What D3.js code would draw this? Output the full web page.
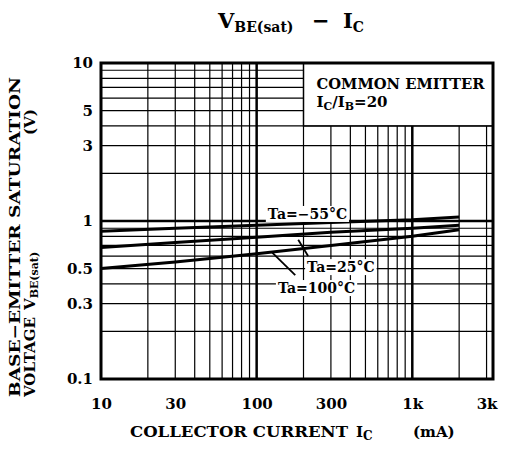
<!DOCTYPE html>
<html>
<head>
<meta charset="utf-8">
<script src="https://cdn.jsdelivr.net/npm/d3@7"></script>
<style>
  body { margin: 0; background: #fff; }
  svg text { font-family: "DejaVu Serif", serif; font-weight: bold; fill: #000; }
</style>
</head>
<body>
<svg id="chart" width="510" height="459"></svg>
<script>
// axis domains and ticks
const xDomain = [10, 3300];
const yDomain = [0.1, 10];
const xTicks = [10, 30, 100, 300, 1000, 3000];
const xTickLabels = ["10", "30", "100", "300", "1k", "3k"];
const yTicks = [0.1, 0.3, 0.5, 1, 3, 5, 10];
const yTickLabels = ["0.1", "0.3", "0.5", "1", "3", "5", "10"];

// curves (Ic mA, Vbe(sat) V)
const ic = [10, 30, 100, 300, 1000, 2000];
const vbeM55 = [0.86, 0.9, 0.94, 0.98, 1.02, 1.06];
const vbe25 = [0.68, 0.73, 0.79, 0.85, 0.9, 0.94];
const vbe100 = [0.5, 0.55, 0.62, 0.7, 0.8, 0.88];
const seriesNames = ["Ta=−55°C", "Ta=25°C", "Ta=100°C"];

// label anchors (data units) and leader lines
const labelIc = [118, 211, 137];
const labelV = [1.03, 0.475, 0.35];
const leaderFrom = [null, [185, 0.76], [126, 0.63]];
const leaderTo = [null, [214, 0.6], [177, 0.455]];

const svg = d3.select("#chart");
const pL = 101, pR = 493, pT = 63, pB = 379;

const x = d3.scaleLog().domain(xDomain).range([pL, pR]);
const y = d3.scaleLog().domain(yDomain).range([pB, pT]);

// legend box area (grid hidden there)
const boxX0 = x(200), boxY1 = y(4);

// minor grid values
const xGrid = [];
[10, 100, 1000].forEach(d => { for (let k = 1; k <= 9; k++) { const v = d * k; if (v > 10 && v < xDomain[1]) xGrid.push(v); } });
const yGrid = [];
[0.1, 1].forEach(d => { for (let k = 1; k <= 9; k++) { const v = +(d * k).toFixed(2); if (v > 0.1 && v < 10) yGrid.push(v); } });

const grid = svg.append("g").attr("stroke", "#000");
grid.selectAll("line.vx")
  .data(xGrid)
  .enter().append("line")
  .attr("x1", d => x(d)).attr("x2", d => x(d))
  .attr("y1", d => x(d) >= boxX0 - 0.5 ? boxY1 : pT)
  .attr("y2", pB)
  .attr("stroke-width", d => (d === 100 || d === 1000) ? 2.5 : 1.2);

grid.selectAll("line.hy")
  .data(yGrid)
  .enter().append("line")
  .attr("y1", d => y(d)).attr("y2", d => y(d))
  .attr("x1", pL)
  .attr("x2", d => y(d) < boxY1 - 0.5 ? boxX0 : pR)
  .attr("stroke-width", d => d === 1 ? 2.5 : 1.2);

// legend box
svg.append("rect")
  .attr("x", boxX0).attr("y", pT)
  .attr("width", pR - boxX0).attr("height", boxY1 - pT)
  .attr("fill", "#fff").attr("stroke", "#000").attr("stroke-width", 1.5);

const leg = svg.append("text").attr("x", boxX0 + 13).attr("y", pT + 26).attr("font-size", 15);
leg.text("COMMON EMITTER").attr("textLength", 168).attr("lengthAdjust", "spacingAndGlyphs");
const leg2 = svg.append("text").attr("x", boxX0 + 13).attr("y", pT + 44).attr("font-size", 15);
leg2.append("tspan").text("I");
leg2.append("tspan").attr("font-size", 11).attr("dy", 3).text("C");
leg2.append("tspan").attr("dy", -3).text("/I");
leg2.append("tspan").attr("font-size", 11).attr("dy", 3).text("B");
leg2.append("tspan").attr("dy", -3).text("=20");

// curves
const line = d3.line().x(d => x(d[0])).y(d => y(d[1]));
[vbeM55, vbe25, vbe100].forEach(vals => {
  svg.append("path")
    .datum(ic.map((c, i) => [c, vals[i]]))
    .attr("d", line)
    .attr("fill", "none")
    .attr("stroke", "#000")
    .attr("stroke-width", 3);
});

// curve labels
seriesNames.forEach((name, i) => {
  const t = svg.append("text")
    .attr("x", x(labelIc[i])).attr("y", y(labelV[i]))
    .attr("font-size", 14)
    .text(name);
  const bb = t.node().getBBox();
  svg.insert("rect", () => t.node())
    .attr("x", bb.x - 2).attr("y", bb.y)
    .attr("width", bb.width + 4).attr("height", bb.height)
    .attr("fill", "#fff");
  if (leaderFrom[i]) {
    svg.append("line")
      .attr("x1", x(leaderFrom[i][0])).attr("y1", y(leaderFrom[i][1]))
      .attr("x2", x(leaderTo[i][0])).attr("y2", y(leaderTo[i][1]))
      .attr("stroke", "#000").attr("stroke-width", 1.8);
  }
});

// frame
svg.append("rect")
  .attr("x", pL).attr("y", pT)
  .attr("width", pR - pL).attr("height", pB - pT)
  .attr("fill", "none").attr("stroke", "#000").attr("stroke-width", 3);

// ticks
const xAxis = d3.axisBottom(x).tickValues(xTicks)
  .tickFormat((d, i) => xTickLabels[i]).tickSize(0).tickPadding(19);
svg.append("g").attr("transform", `translate(0,${pB})`).call(xAxis)
  .call(g => g.select(".domain").remove())
  .call(g => g.attr("font-family", null).attr("font-size", null))
  .selectAll("text").attr("font-size", 15);

const yAxis = d3.axisLeft(y).tickValues(yTicks)
  .tickFormat((d, i) => yTickLabels[i]).tickSize(0).tickPadding(8);
svg.append("g").attr("transform", `translate(${pL},0)`).call(yAxis)
  .call(g => g.select(".domain").remove())
  .call(g => g.attr("font-family", null).attr("font-size", null))
  .selectAll("text").attr("font-size", 15);

// title
const title = svg.append("text").attr("x", 218).attr("y", 28).attr("font-size", 21);
title.append("tspan").text("V");
title.append("tspan").attr("font-size", 14).attr("dy", 4).text("BE(sat)");
title.append("tspan").attr("dy", -4).attr("x", 312).text("−");
title.append("tspan").attr("x", 343).text("I");
title.append("tspan").attr("font-size", 14).attr("dy", 4).text("C");

// x axis title
const xt = svg.append("text").attr("x", 130).attr("y", 437).attr("font-size", 15);
xt.append("tspan").attr("textLength", 218).attr("lengthAdjust", "spacingAndGlyphs").text("COLLECTOR CURRENT");
xt.append("tspan").attr("x", 356).text("I");
xt.append("tspan").attr("font-size", 12).attr("dy", 3).text("C");
xt.append("tspan").attr("dy", -3).attr("x", 413).text("(mA)");

// y axis title
svg.append("text")
  .attr("transform", "translate(20,397) rotate(-90)")
  .attr("font-size", 15)
  .attr("textLength", 320).attr("lengthAdjust", "spacingAndGlyphs")
  .text("BASE−EMITTER SATURATION");
const yt2 = svg.append("text")
  .attr("transform", "translate(35,397) rotate(-90)")
  .attr("font-size", 15);
yt2.append("tspan").attr("x", 0).text("VOLTAGE");
yt2.append("tspan").attr("x", 87).text("V");
yt2.append("tspan").attr("font-size", 11).attr("dy", 3).text("BE(sat)");
yt2.append("tspan").attr("dy", -3).attr("x", 262).text("(V)");
</script>
</body>
</html>
